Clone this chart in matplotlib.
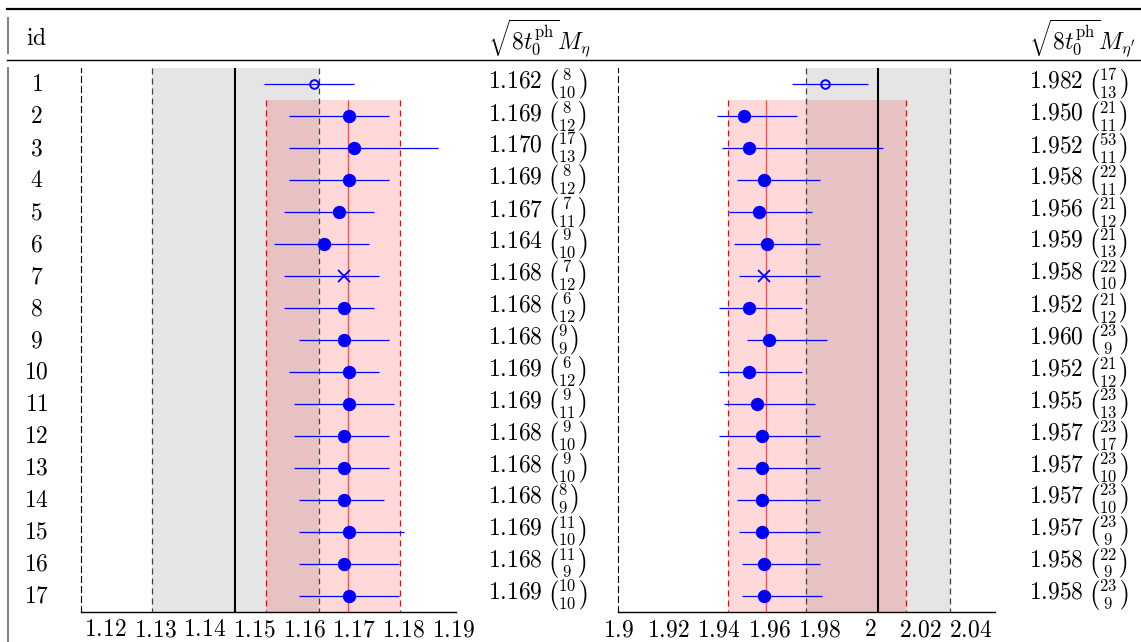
import numpy as np
import matplotlib
matplotlib.use("Agg")
import matplotlib.pyplot as plt
from matplotlib.lines import Line2D
from matplotlib.transforms import blended_transform_factory
from matplotlib.ticker import FuncFormatter

plt.rcParams['mathtext.fontset'] = 'cm'
plt.rcParams['lines.scale_dashes'] = False

# ---- data ----
ids = np.arange(1, 18)

eta_val = [1.162, 1.169, 1.170, 1.169, 1.167, 1.164, 1.168, 1.168, 1.168,
           1.169, 1.169, 1.168, 1.168, 1.168, 1.169, 1.168, 1.169]
eta_up = [8, 8, 17, 8, 7, 9, 7, 6, 9, 6, 9, 9, 9, 8, 11, 11, 10]
eta_lo = [10, 12, 13, 12, 11, 10, 12, 12, 9, 12, 11, 10, 10, 9, 10, 9, 10]

etap_val = [1.982, 1.950, 1.952, 1.958, 1.956, 1.959, 1.958, 1.952, 1.960,
            1.952, 1.955, 1.957, 1.957, 1.957, 1.957, 1.958, 1.958]
etap_up = [17, 21, 53, 22, 21, 21, 22, 21, 23, 21, 23, 23, 23, 23, 23, 22, 23]
etap_lo = [13, 11, 11, 11, 12, 13, 10, 12, 9, 12, 13, 17, 10, 10, 9, 9, 9]

# reference bands (experiment: grey, fit average: red)
eta_exp = (1.1293, 1.1461, 1.1630)
eta_fit = (1.1523, 1.1688, 1.1793)
etap_exp = (1.9744, 2.0031, 2.0317)
etap_fit = (1.9435, 1.9586, 2.0143)

eta_ticks = [1.12, 1.13, 1.14, 1.15, 1.16, 1.17, 1.18, 1.19]
etap_ticks = [1.9, 1.92, 1.94, 1.96, 1.98, 2.0, 2.02, 2.04]

W, H = 1141, 642
fig = plt.figure(figsize=(W / 100, H / 100), dpi=100)

FS = 17
DASH = (0, (4.3, 2.9))


def draw_panel(ax, val, up, lo, exp, fit, ticks, xlim):
    val = np.asarray(val)
    up = np.asarray(up) / 1000.0
    lo = np.asarray(lo) / 1000.0
    ax.set_xlim(*xlim)
    ax.set_ylim(17.5, 0.5)

    # grey band
    ax.axvspan(exp[0], exp[2], color='k', alpha=0.1, lw=0)
    ax.vlines([exp[0], exp[2]], 0.5, 17.5, colors='0.25', lw=0.9, linestyles=DASH)
    ax.vlines(exp[1], 0.5, 17.5, colors='k', lw=1.5)

    # red band (rows 2..17)
    ax.fill_betweenx([1.5, 17.5], fit[0], fit[2], color='red', alpha=0.15, lw=0)
    ax.vlines([fit[0], fit[2]], 1.5, 17.5, colors='red', lw=0.9, linestyles=DASH)
    ax.vlines(fit[1], 1.5, 17.5, colors='#ff4d4d', lw=1.0)

    ax.errorbar(val, ids, xerr=[lo, up], fmt='none', ecolor='blue', elinewidth=0.9)
    filled = [i for i in range(len(ids)) if ids[i] not in (1, 7)]
    ax.plot(val[filled], ids[filled], 'o', color='blue', ms=8.6, mec='blue')
    ax.plot(val[0], ids[0], 'o', mfc='none', mec='blue', ms=6.2, mew=1.4)
    ax.plot(val[6], ids[6], 'x', color='blue', ms=8, mew=1.3)

    for s in ['top', 'right']:
        ax.spines[s].set_visible(False)
    ax.spines['left'].set_linestyle(DASH)
    ax.spines['left'].set_linewidth(0.8)
    ax.spines['bottom'].set_linewidth(1.0)
    ax.set_yticks([])
    ax.set_xticks(ticks)
    ax.xaxis.set_major_formatter(FuncFormatter(lambda v, p: f"${v:g}$"))
    ax.tick_params(axis='x', length=0, pad=4, labelsize=FS)
    ax.set_facecolor('none')


ax1 = fig.add_axes([80.7 / W, 1 - 611.7 / H, 375 / W, 543.4 / H])
draw_panel(ax1, eta_val, eta_up, eta_lo, eta_exp, eta_fit, eta_ticks, (1.115, 1.1905))
ax2 = fig.add_axes([618.3 / W, 1 - 611.7 / H, 376.7 / W, 543.4 / H])
draw_panel(ax2, etap_val, etap_up, etap_lo, etap_exp, etap_fit, etap_ticks, (1.9, 2.0495))

# table text
tr = blended_transform_factory(fig.transFigure, ax1.transData)
for i, (a, b) in enumerate(zip(eta_val, etap_val)):
    fig.text(36.5 / W, ids[i], f"${ids[i]}$", transform=tr, ha='center', va='center', fontsize=FS)
    fig.text(488 / W, ids[i], f"${a:.3f}\\;\\binom{{{eta_up[i]}}}{{{eta_lo[i]}}}$",
             transform=tr, ha='left', va='center', fontsize=FS)
    fig.text(1029 / W, ids[i], f"${b:.3f}\\;\\binom{{{etap_up[i]}}}{{{etap_lo[i]}}}$",
             transform=tr, ha='left', va='center', fontsize=FS)

hy = 1 - 38 / H
fig.text(36.5 / W, hy, r"$\mathrm{id}$", ha='center', va='center', fontsize=FS)
fig.text(590 / W, hy, r"$\sqrt{8t_0^{\mathrm{ph}}}M_\eta$", ha='right', va='center', fontsize=FS)
fig.text(1135 / W, hy, r"$\sqrt{8t_0^{\mathrm{ph}}}M_{\eta'}$", ha='right', va='center', fontsize=FS)

# table rules
fig.add_artist(Line2D([7 / W, 1], [1 - 9 / H] * 2, color='k', lw=1.6))
fig.add_artist(Line2D([7 / W, 1], [1 - 59.5 / H] * 2, color='k', lw=1.0))
fig.add_artist(Line2D([7.5 / W] * 2, [1 - 18 / H, 1 - 53 / H], color='0.5', lw=1.4))
fig.add_artist(Line2D([7.5 / W] * 2, [1 - 68 / H, 0], color='0.5', lw=1.4))

fig.savefig("out.png", dpi=100)
